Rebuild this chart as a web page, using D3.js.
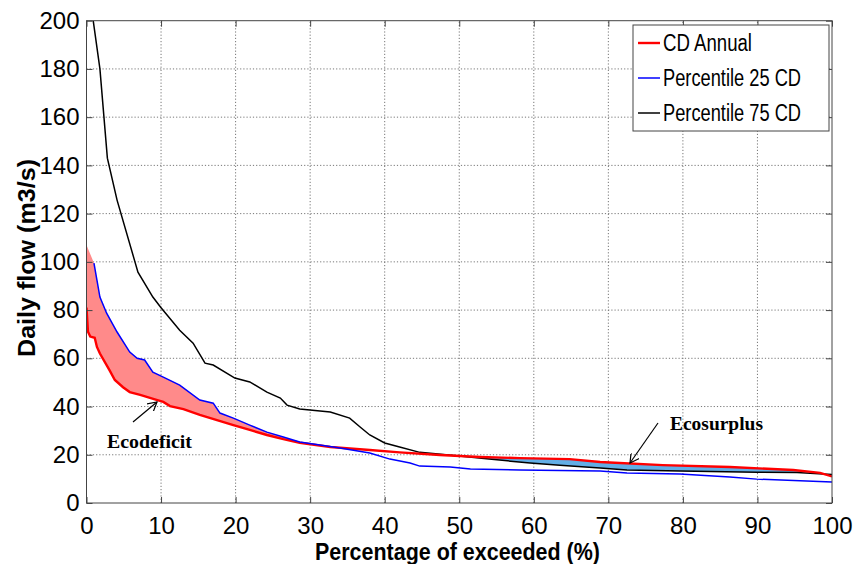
<!DOCTYPE html>
<html>
<head>
<meta charset="utf-8">
<script src="https://cdn.jsdelivr.net/npm/d3@7"></script>
<style>
  body { margin: 0; background: #fff; }
</style>
</head>
<body>
<div id="chart"></div>
<script>
const width = 860;
const height = 564;
const margin = { top: 20.7, right: 28, bottom: 61, left: 86.5 };
const sans = '"Liberation Sans", Arial, sans-serif';
const narrow = '"Liberation Sans Narrow", "Arial Narrow", "Liberation Sans", sans-serif';
const serif = '"Liberation Serif", "DejaVu Serif", serif';

// Percentile 75 CD (black)
const pct75 = [0.9, 1.8, 2.8, 4.1, 6.5, 6.9, 8.9, 10, 12.5, 14.3, 15.9, 17, 19.9, 21.9, 24.2, 26, 26.9, 28.6, 32.7, 35.3, 36.7, 38, 40, 42, 44.7, 50, 54, 59.5, 63.5, 68.9, 72.5, 79.6, 89.9, 95.3, 100];
const flow75 = [200, 180, 143, 125.6, 100, 95.7, 85.4, 81, 71.6, 66.3, 58, 57.2, 51.8, 50.2, 46, 43.5, 40.6, 39, 37.7, 35.2, 31.5, 28.2, 24.9, 23.2, 21, 19.5, 18.2, 16.6, 15.7, 14.5, 13.7, 13.3, 12.8, 12.6, 11.8];

// CD Annual (red)
const pctAnn = [0, 0.2, 0.5, 1.1, 1.4, 1.8, 3.1, 3.8, 4.9, 5.8, 7.2, 9.5, 10.3, 11.2, 13, 15.2, 17.5, 19.7, 21.9, 24.2, 26.4, 28.6, 32.7, 38, 42, 47.4, 52.8, 58.1, 64.8, 68.9, 70.2, 77.3, 86.3, 94.8, 98.4, 100];
const flowAnn = [81, 71, 69, 68.5, 64.7, 62, 55, 51, 48, 46, 44.8, 42.7, 41.9, 40.2, 38.9, 36.5, 34.4, 32.3, 30.3, 28.2, 26.5, 25, 23.2, 22, 21, 19.9, 19.1, 18.6, 18.2, 17, 16.8, 15.7, 14.9, 13.7, 12.5, 11];

// Percentile 25 CD (blue)
const pct25 = [1, 1.4, 1.8, 2.7, 4.1, 5.8, 6.8, 7.8, 8.9, 10.3, 12.5, 15.2, 17, 17.9, 19.7, 21.9, 24.2, 26.4, 28.6, 34, 38, 40.7, 43.4, 44.7, 48.8, 51.5, 58.1, 68.9, 72.5, 79.6, 86.3, 89.9, 100];
const flow25 = [99.5, 92.4, 85.4, 78.7, 70.9, 62.6, 60, 59.3, 54.3, 52.2, 48.9, 42.7, 41.4, 37.3, 35.2, 32.3, 29.4, 27.4, 25.3, 22.8, 20.7, 18.2, 16.6, 15.3, 14.9, 14.1, 13.7, 13.3, 12.4, 12, 10.8, 9.9, 8.7];

const deficitCorner = [0, 107];
const deficitRange = [0, 29];
const surplusRange = [52, 98.4];

const xTicks = [0, 10, 20, 30, 40, 50, 60, 70, 80, 90, 100];
const yTicks = [0, 20, 40, 60, 80, 100, 120, 140, 160, 180, 200];
const legendNames = ['CD Annual', 'Percentile 25 CD', 'Percentile 75 CD'];
const legendColors = ['#ff0000', '#0000ff', '#000000'];

const zip = (xs, ys) => xs.map((x, i) => [x, ys[i]]);
const ptsAnn = zip(pctAnn, flowAnn);
const pts25 = zip(pct25, flow25);
const pts75 = zip(pct75, flow75);

const svg = d3.select('#chart').append('svg')
  .attr('width', width)
  .attr('height', height);

const x = d3.scaleLinear().domain([0, 100]).range([margin.left, width - margin.right]);
const y = d3.scaleLinear().domain([0, 200]).range([height - margin.bottom, margin.top]);

const defs = svg.append('defs');
defs.append('clipPath').attr('id', 'plot')
  .append('rect')
  .attr('x', x(0)).attr('y', y(200))
  .attr('width', x(100) - x(0)).attr('height', y(0) - y(200));

// grid
const grid = svg.append('g')
  .attr('stroke', '#777').attr('stroke-width', 1).attr('stroke-dasharray', '1.2,2');
grid.selectAll('.gx').data(xTicks.slice(1, -1)).enter().append('line')
  .attr('x1', d => x(d)).attr('x2', d => x(d)).attr('y1', y(0)).attr('y2', y(200));
grid.selectAll('.gy').data(yTicks.slice(1, -1)).enter().append('line')
  .attr('y1', d => y(d)).attr('y2', d => y(d)).attr('x1', x(0)).attr('x2', x(100));

const line = d3.line().x(d => x(d[0])).y(d => y(d[1]));
const inRange = (r) => (d) => d[0] >= r[0] && d[0] <= r[1];

const plot = svg.append('g').attr('clip-path', 'url(#plot)');

// ecodeficit fill: P25 above annual curve
const deficitPoly = pts25.filter(inRange(deficitRange))
  .concat(ptsAnn.filter(inRange(deficitRange)).reverse())
  .concat([deficitCorner]);
plot.append('path')
  .attr('d', line(deficitPoly) + 'Z')
  .attr('fill', '#ff8a8a');

// ecosurplus fill: annual curve above P75
const surplusPoly = ptsAnn.filter(inRange(surplusRange))
  .concat(pts75.filter(inRange(surplusRange)).reverse());
plot.append('path')
  .attr('d', line(surplusPoly) + 'Z')
  .attr('fill', '#62aee6');

plot.append('path').attr('d', line(pts75))
  .attr('fill', 'none').attr('stroke', '#000').attr('stroke-width', 1.5);
plot.append('path').attr('d', line(ptsAnn))
  .attr('fill', 'none').attr('stroke', '#ff0000').attr('stroke-width', 2.4);
plot.append('path').attr('d', line(pts25))
  .attr('fill', 'none').attr('stroke', '#0000ff').attr('stroke-width', 1.5);

// axes (MATLAB style box with inward ticks)
const tickLen = 6;
const axisColor = '#444';
const styleTicks = g => g.selectAll('text')
  .style('font-family', narrow).style('font-size', '24px').attr('fill', '#000');

svg.append('g')
  .attr('transform', `translate(0,${y(0)})`)
  .call(d3.axisBottom(x).tickValues(xTicks).tickSize(-tickLen).tickPadding(14))
  .call(g => g.select('.domain').remove())
  .call(g => g.selectAll('line').attr('stroke', axisColor))
  .call(styleTicks);
svg.append('g')
  .attr('transform', `translate(0,${y(200)})`)
  .call(d3.axisTop(x).tickValues(xTicks).tickSize(-tickLen).tickFormat(''))
  .call(g => g.select('.domain').remove())
  .call(g => g.selectAll('line').attr('stroke', axisColor));
svg.append('g')
  .attr('transform', `translate(${x(0)},0)`)
  .call(d3.axisLeft(y).tickValues(yTicks).tickSize(-tickLen).tickPadding(7))
  .call(g => g.select('.domain').remove())
  .call(g => g.selectAll('line').attr('stroke', axisColor))
  .call(styleTicks);
svg.append('g')
  .attr('transform', `translate(${x(100)},0)`)
  .call(d3.axisRight(y).tickValues(yTicks).tickSize(-tickLen).tickFormat(''))
  .call(g => g.select('.domain').remove())
  .call(g => g.selectAll('line').attr('stroke', axisColor));

svg.append('rect')
  .attr('x', x(0)).attr('y', y(200))
  .attr('width', x(100) - x(0)).attr('height', y(0) - y(200))
  .attr('fill', 'none').attr('stroke', axisColor).attr('stroke-width', 1);

// axis labels
svg.append('text')
  .attr('x', 457.5)
  .attr('y', 560)
  .attr('text-anchor', 'middle')
  .style('font-family', sans).style('font-size', '24px').style('font-weight', 'bold')
  .attr('textLength', 285).attr('lengthAdjust', 'spacingAndGlyphs')
  .text('Percentage of exceeded (%)');

svg.append('text')
  .attr('transform', 'translate(35,258) rotate(-90)')
  .attr('text-anchor', 'middle')
  .style('font-family', sans).style('font-size', '24px').style('font-weight', 'bold')
  .attr('textLength', 198).attr('lengthAdjust', 'spacingAndGlyphs')
  .text('Daily flow  (m3/s)');

// legend
const legend = svg.append('g').attr('transform', 'translate(633,25)');
legend.append('rect')
  .attr('width', 196).attr('height', 106)
  .attr('fill', '#fff').attr('stroke', axisColor).attr('stroke-width', 1);
const item = legend.selectAll('.item').data(legendNames).enter().append('g')
  .attr('transform', (d, i) => `translate(0,${18 + i * 35})`);
item.append('line')
  .attr('x1', 5).attr('x2', 27)
  .attr('stroke', (d, i) => legendColors[i])
  .attr('stroke-width', (d, i) => i === 0 ? 2.4 : 1.5);
item.append('text')
  .attr('x', 30).attr('y', 8)
  .style('font-family', narrow).style('font-size', '23px')
  .attr('textLength', (d, i) => [89, 138, 138][i])
  .attr('lengthAdjust', 'spacingAndGlyphs')
  .text(d => d);

// annotations
defs.append('marker').attr('id', 'arrow')
  .attr('viewBox', '0 0 10 10').attr('refX', 9).attr('refY', 5)
  .attr('markerWidth', 10).attr('markerHeight', 10)
  .attr('markerUnits', 'userSpaceOnUse')
  .attr('orient', 'auto')
  .append('path').attr('d', 'M0,0 L9,5 L0,10')
  .attr('fill', 'none').attr('stroke', '#000').attr('stroke-width', 1.2);

svg.append('line')
  .attr('x1', 133).attr('y1', 422).attr('x2', 157).attr('y2', 402)
  .attr('stroke', '#000').attr('stroke-width', 1.2).attr('marker-end', 'url(#arrow)');
svg.append('text')
  .attr('x', 107).attr('y', 448)
  .style('font-family', serif).style('font-size', '18px').style('font-weight', 'bold')
  .attr('textLength', 85).attr('lengthAdjust', 'spacingAndGlyphs')
  .text('Ecodeficit');

svg.append('line')
  .attr('x1', 658).attr('y1', 423).attr('x2', 630).attr('y2', 463)
  .attr('stroke', '#000').attr('stroke-width', 1.2).attr('marker-end', 'url(#arrow)');
svg.append('text')
  .attr('x', 670).attr('y', 430)
  .style('font-family', serif).style('font-size', '18px').style('font-weight', 'bold')
  .attr('textLength', 93).attr('lengthAdjust', 'spacingAndGlyphs')
  .text('Ecosurplus');
</script>
</body>
</html>
